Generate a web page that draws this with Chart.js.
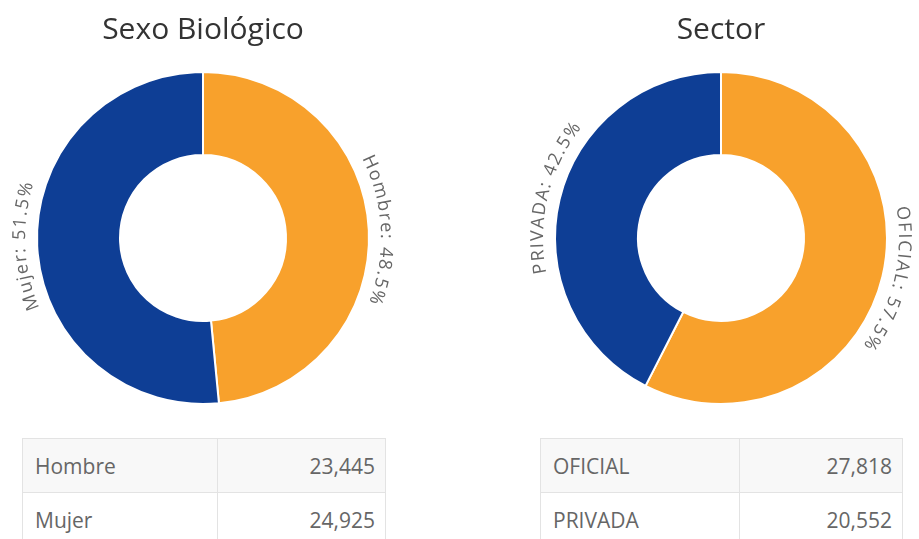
<!DOCTYPE html>
<html>
<head>
<meta charset="utf-8">
<script src="https://cdn.jsdelivr.net/npm/chart.js@4.4.0/dist/chart.umd.min.js"></script>
<style>
  body { margin: 0; background: #fff; overflow: hidden; font-family: "Open Sans", sans-serif; }
  .panel { position: absolute; top: 0; }
  canvas { display: block; }
  table.datos {
    position: absolute; border-collapse: collapse; font-family: "Open Sans", sans-serif;
    font-size: 21px; color: #666;
  }
  table.datos td { border: 1px solid #e3e3e3; height: 53px; padding: 0 10px 0 12px; }
  table.datos tr:nth-child(odd) td { background: #f8f8f8; }
  table.datos td.num { text-align: right; }
</style>
</head>
<body>
<div class="panel" style="left:3px"><canvas id="sexo" width="400" height="420"></canvas></div>
<div class="panel" style="left:521px"><canvas id="sector" width="400" height="420"></canvas></div>
<table class="datos" id="tablaSexo" style="left:22px; top:438px; width:364px"></table>
<table class="datos" id="tablaSector" style="left:540px; top:438px; width:363px"></table>

<script>
// datos
const sexoLabels = ["Hombre", "Mujer"];
const sexoValues = [23445, 24925];
const sectorLabels = ["OFICIAL", "PRIVADA"];
const sectorValues = [27818, 20552];
const colores = ["#F8A12C", "#0E3E95"];

// etiquetas curvas alrededor del anillo
const arcLabels = {
  id: "arcLabels",
  afterDatasetsDraw(chart) {
    const ctx = chart.ctx;
    const ds = chart.data.datasets[0];
    const total = ds.data.reduce((a, b) => a + b, 0);
    const meta = chart.getDatasetMeta(0);
    ctx.save();
    ctx.font = "18px 'Open Sans'";
    ctx.fillStyle = "#666";
    ctx.textAlign = "center";
    ctx.textBaseline = "alphabetic";
    const spacing = 1.6;
    meta.data.forEach((arc, i) => {
      const pct = (ds.data[i] / total * 100).toFixed(1);
      const text = chart.data.labels[i] + ": " + pct + "%";
      const r = arc.outerRadius + 12;
      const mid = (arc.startAngle + arc.endAngle) / 2;
      const widths = [...text].map(c => ctx.measureText(c).width + spacing);
      const total_w = widths.reduce((a, b) => a + b, 0) - spacing;
      let a = mid - total_w / 2 / r;
      [...text].forEach((c, k) => {
        const w = widths[k] - spacing;
        const ca = a + (w / 2) / r;
        ctx.save();
        ctx.translate(arc.x + r * Math.cos(ca), arc.y + r * Math.sin(ca));
        ctx.rotate(ca + Math.PI / 2);
        ctx.fillText(c, 0, 0);
        ctx.restore();
        a += widths[k] / r;
      });
    });
    ctx.restore();
  }
};

function donut(id, titulo, labels, values) {
  return new Chart(document.getElementById(id), {
    type: "doughnut",
    data: {
      labels: labels,
      datasets: [{
        data: values,
        backgroundColor: colores,
        borderColor: "#fff",
        borderWidth: 2
      }]
    },
    options: {
      responsive: false,
      animation: false,
      cutout: "50%",
      layout: { padding: { top: 0, bottom: 15 } },
      plugins: {
        legend: { display: false },
        tooltip: { enabled: false },
        title: {
          display: true,
          text: titulo,
          color: "#333",
          font: { family: "'Open Sans'", size: 30, weight: "normal", lineHeight: 1.2 },
          padding: { top: 12, bottom: 23 }
        }
      }
    },
    plugins: [arcLabels]
  });
}

function tabla(id, labels, values, colWidth) {
  const t = document.getElementById(id);
  labels.forEach((l, i) => {
    const tr = document.createElement("tr");
    tr.innerHTML = "<td style='width:" + colWidth + "px'>" + l + "</td><td class='num'>" +
      values[i].toLocaleString("en-US") + "</td>";
    t.appendChild(tr);
  });
}

donut("sexo", "Sexo Biológico", sexoLabels, sexoValues);
donut("sector", "Sector", sectorLabels, sectorValues);
tabla("tablaSexo", sexoLabels, sexoValues, 172);
tabla("tablaSector", sectorLabels, sectorValues, 176);
</script>
</body>
</html>
